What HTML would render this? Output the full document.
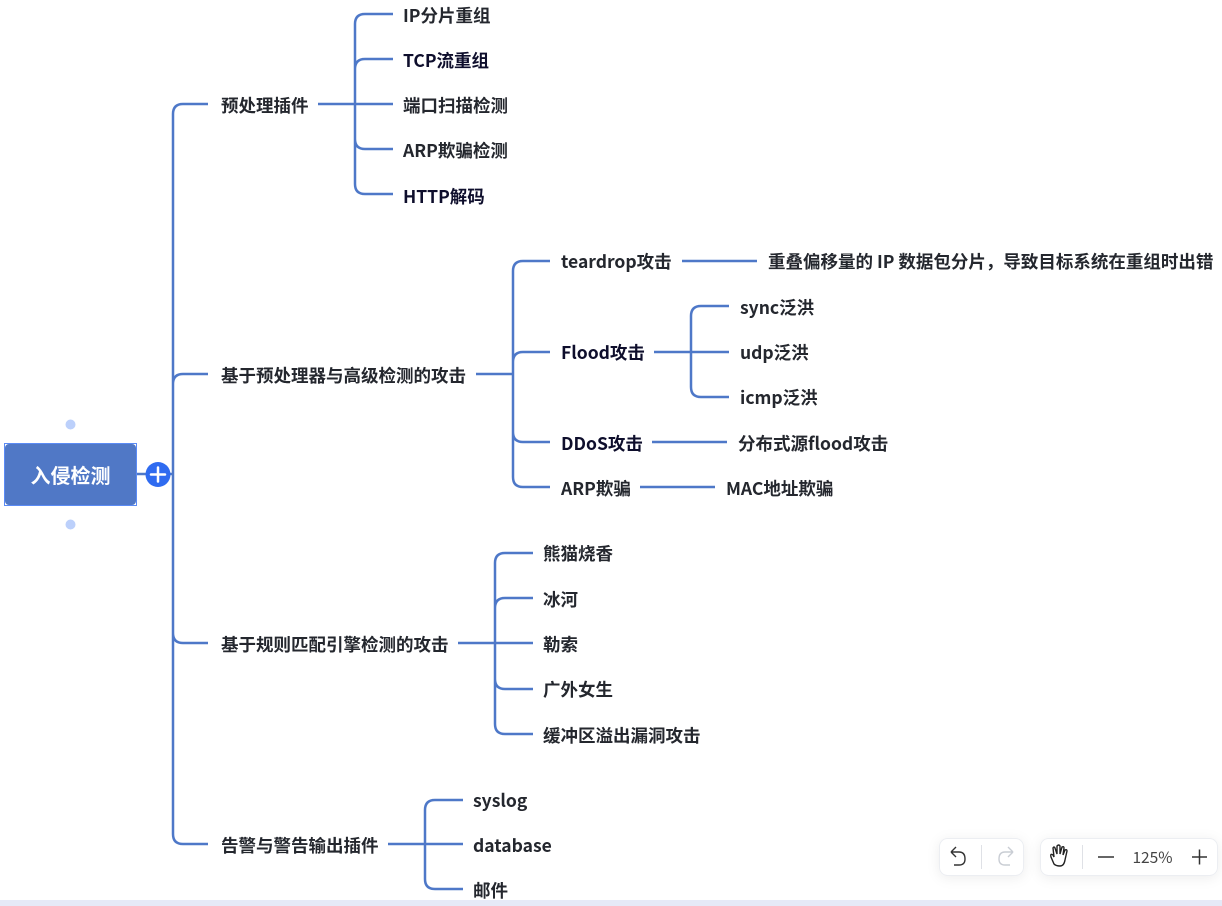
<!DOCTYPE html>
<html><head><meta charset="utf-8"><style>
html,body{margin:0;padding:0;background:#fff;width:1222px;height:906px;overflow:hidden}
svg{position:absolute;left:0;top:0}
text{font-family:"Noto Sans CJK SC","Liberation Sans",sans-serif;font-size:17.5px;font-weight:700;fill:#24272e}
.n{fill:#0e0e2c}
.l{fill:none;stroke:#4e78c8;stroke-width:2.5;stroke-linecap:butt}
</style></head><body>
<svg width="1222" height="906" viewBox="0 0 1222 906" xmlns="http://www.w3.org/2000/svg">
<defs><filter id="s" x="-20%" y="-40%" width="140%" height="180%"><feDropShadow dx="0" dy="2" stdDeviation="6" flood-color="#000" flood-opacity=".07"/></filter></defs>
<rect x="0" y="900" width="1222" height="6" fill="#e6e9f7"/>
<g>
<path class="l" d="M137 474H173M208 104H183Q173 104 173 114V834Q173 844 183 844H208M173 384Q173 374 183 374H208M173 633Q173 643 183 643H208"/>
<path class="l" d="M318 104H393M393 14H365Q355 14 355 24V184Q355 194 365 194H393M393 59H365Q355 59 355 69M393 149H365Q355 149 355 139"/>
<path class="l" d="M476 374H513M550 261H523Q513 261 513 271V477Q513 487 523 487H550M550 352H523Q513 352 513 362M550 442H523Q513 442 513 432"/>
<path class="l" d="M682 261H757M654 352H729M729 306H701Q691 306 691 316V387Q691 397 701 397H729M652 442H727M640 487H715"/>
<path class="l" d="M458 643H533M533 553H505Q495 553 495 563V724Q495 734 505 734H533M533 598H505Q495 598 495 608M533 689H505Q495 689 495 679"/>
<path class="l" d="M388 844H463M463 800H435Q425 800 425 810V879Q425 889 435 889H463"/>
</g>
<rect x="4" y="443" width="133" height="63" fill="#5b8bf5"/>
<rect x="5" y="444" width="131" height="61" fill="#fff"/>
<rect x="5" y="444" width="131" height="61" rx="4" fill="#5078c6"/>
<text x="70.500" y="483" text-anchor="middle" style="fill:#fff;font-size:20px;font-weight:700">入侵检测</text>
<circle cx="70.500" cy="424.500" r="5" fill="#bcd0fb"/><circle cx="70.500" cy="524.500" r="5" fill="#bcd0fb"/>
<circle cx="158" cy="474.500" r="12.500" fill="#2f6bf0"/>
<path d="M151 474.500H165M158 467.500V481.500" stroke="#fff" stroke-width="2.500" stroke-linecap="round"/>
<text x="221" y="112">预处理插件</text>
<text x="403" y="22">IP分片重组</text>
<text x="403" y="67" class="n">TCP流重组</text>
<text x="403" y="112">端口扫描检测</text>
<text x="403" y="157">ARP欺骗检测</text>
<text x="403" y="203" class="n">HTTP解码</text>
<text x="221" y="382">基于预处理器与高级检测的攻击</text>
<text x="561" y="268">teardrop攻击</text>
<text x="768" y="268">重叠偏移量的 IP 数据包分片，导致目标系统在重组时出错</text>
<text x="561" y="359" class="n">Flood攻击</text>
<text x="740" y="314">sync泛洪</text>
<text x="740" y="359">udp泛洪</text>
<text x="740" y="404">icmp泛洪</text>
<text x="561" y="450" class="n">DDoS攻击</text>
<text x="738" y="450">分布式源flood攻击</text>
<text x="561" y="495">ARP欺骗</text>
<text x="726" y="495">MAC地址欺骗</text>
<text x="221" y="651">基于规则匹配引擎检测的攻击</text>
<text x="543" y="560">熊猫烧香</text>
<text x="543" y="606">冰河</text>
<text x="543" y="651">勒索</text>
<text x="543" y="696">广外女生</text>
<text x="543" y="742">缓冲区溢出漏洞攻击</text>
<text x="221" y="852">告警与警告输出插件</text>
<text x="473" y="807">syslog</text>
<text x="473" y="852">database</text>
<text x="473" y="897">邮件</text>
<rect x="939.500" y="838.500" width="84" height="37" rx="8" fill="#fff" stroke="#eceef2" filter="url(#s)"/>
<rect x="1040.500" y="838.500" width="177" height="37" rx="8" fill="#fff" stroke="#eceef2" filter="url(#s)"/>
<path d="M981.500 845V869M1082.500 845V869" stroke="#dfe1e6"/>
<path d="M951 850L956 855M951 850L956 845M951 850H959Q965 850 965 857Q965 863 959 863H954" transform="translate(0,2)" fill="none" stroke="#333" stroke-width="1.400"/>
<path d="M1013 850L1008 855M1013 850L1008 845M1013 850H1005Q999 850 999 857Q999 863 1005 863H1010" transform="translate(0,2)" fill="none" stroke="#c9cdd4" stroke-width="1.400"/>
<path d="M1054 864L1051 857Q1050 853 1053 855L1054 857L1053 848Q1054 846 1055 848L1057 854L1057 846Q1059 844 1060 846L1060 854L1062 847Q1064 846 1064 848L1063 855L1065 850Q1067 849 1067 851L1065 860Q1064 866 1060 866Q1056 866 1054 864Z" fill="none" stroke="#222" stroke-width="1.400"/>
<path d="M1098 857H1114M1192 857H1207M1199.500 849.500V864.500" stroke="#333" stroke-width="1.500"/>
<text x="1152.500" y="863" text-anchor="middle" style="font-size:15.500px;font-weight:400;fill:#444;font-family:'Noto Sans CJK SC',sans-serif">125%</text>
</svg>
</body></html>
